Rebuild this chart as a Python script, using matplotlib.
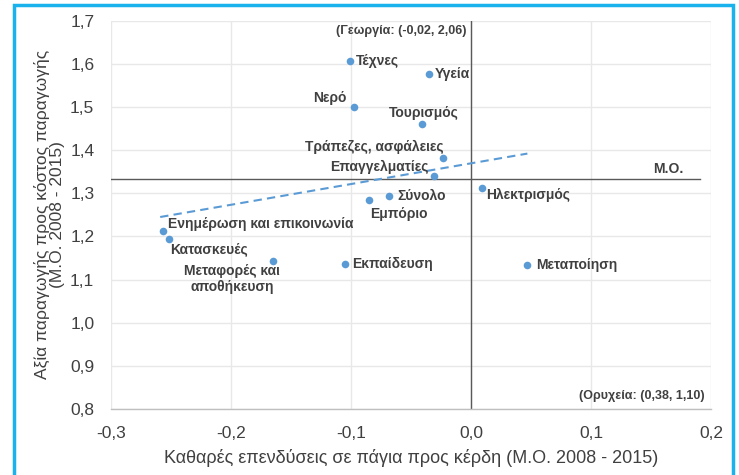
import matplotlib
matplotlib.use("Agg")
import matplotlib.pyplot as plt
from matplotlib.ticker import FuncFormatter
from matplotlib.patches import Rectangle

plt.rcParams['font.family'] = ['Liberation Sans', 'DejaVu Sans']

# ---- data ----
sectors = ["Τέχνες", "Υγεία", "Νερό", "Τουρισμός", "Τράπεζες, ασφάλειες",
           "Επαγγελματίες", "Σύνολο", "Εμπόριο", "Ηλεκτρισμός",
           "Ενημέρωση και επικοινωνία", "Κατασκευές", "Μεταφορές και\nαποθήκευση",
           "Εκπαίδευση", "Μεταποίηση"]
investment = [-0.101, -0.035, -0.0975, -0.041, -0.023, -0.031, -0.068, -0.085,
              0.0094, -0.257, -0.252, -0.165, -0.105, 0.047]
value_ratio = [1.607, 1.577, 1.500, 1.461, 1.382, 1.340, 1.293, 1.284,
               1.312, 1.213, 1.195, 1.143, 1.136, 1.134]
trend_x = [-0.259, 0.047]
trend_y = [1.245, 1.392]
mean_value = 1.334
mean_x = [-0.3, 0.191]
x_ticks = [-0.3, -0.2, -0.1, 0.0, 0.1, 0.2]
y_ticks = [0.8, 0.9, 1.0, 1.1, 1.2, 1.3, 1.4, 1.5, 1.6, 1.7]
note_georgia = "(Γεωργία: (-0,02, 2,06)"
note_mines = "(Ορυχεία: (0,38, 1,10)"
mean_label = "Μ.Ο."
xlabel = "Καθαρές επενδύσεις σε πάγια προς κέρδη (Μ.Ο. 2008 - 2015)"
ylabel = "Αξία παραγωγής προς κόστος παραγωγής\n(Μ.Ο. 2008 - 2015)"

# label placement (offset pixels, alignment)
label_style = [
    ((6, 0), 'left'), ((5.5, 0), 'left'), ((-7, 9), 'right'), ((2, 11), 'center'),
    ((0, 11), 'right'), ((-5, 9), 'right'), ((8, 0), 'left'), ((30, -14), 'center'),
    ((4, -7), 'left'), ((5, 7), 'left'), ((2, -10), 'left'), ((-41, -18), 'center'),
    ((7, 0), 'left'), ((9, 0), 'left'),
]

W, H = 739, 475
fig = plt.figure(figsize=(W / 100, H / 100), dpi=100)
ax = fig.add_axes([111 / W, 1 - 409 / H, 600 / W, (409 - 20.7) / H])

blue = '#5B9BD5'
text_col = '#404040'

ax.set_xlim(x_ticks[0], x_ticks[-1])
ax.set_ylim(y_ticks[0], y_ticks[-1])
ax.set_xticks(x_ticks)
ax.set_yticks(y_ticks)
fmt = FuncFormatter(lambda v, p: f"{v:.1f}".replace('.', ',').replace('-0,0', '0,0'))
ax.xaxis.set_major_formatter(fmt)
ax.yaxis.set_major_formatter(fmt)
ax.grid(True, color='#E8E8E8', linewidth=1.0)
ax.set_axisbelow(True)
for s in ['top', 'right', 'left']:
    ax.spines[s].set_visible(False)
ax.spines['bottom'].set_color('#BFBFBF')
ax.spines['bottom'].set_linewidth(1.0)
ax.tick_params(length=0, labelsize=12.5, labelcolor=text_col)
ax.tick_params(axis='y', pad=12)
ax.tick_params(axis='x', pad=12)

# reference lines
ax.axvline(0, color='#595959', linewidth=1.0, zorder=2)
ax.plot(mean_x, [mean_value, mean_value], color='#595959', linewidth=1.0, zorder=2)

# trend
ax.plot(trend_x, trend_y, color=blue, linestyle=(0, (4, 2.5)), linewidth=1.5, zorder=3)

# points
ax.scatter(investment, value_ratio, s=30, color=blue, zorder=4, linewidths=0)

for name, x, y, (off, ha) in zip(sectors, investment, value_ratio, label_style):
    ax.annotate(name, (x, y), xytext=off, textcoords='offset pixels', ha=ha,
                va='center', fontsize=10, fontweight='bold', color=text_col,
                linespacing=1.25, zorder=5)

ax.annotate(mean_label, (mean_x[1], mean_value), xytext=(-17, 10), textcoords='offset pixels',
            ha='right', va='center', fontsize=10, fontweight='bold', color=text_col)
ax.text(-0.0035, 1.676, note_georgia, ha='right', va='center', fontsize=9,
        fontweight='bold', color=text_col)
ax.text(0.195, 0.829, note_mines, ha='right', va='center', fontsize=9,
        fontweight='bold', color=text_col)

ax.set_xlabel(xlabel, fontsize=13, color=text_col, labelpad=6)
ax.set_ylabel(ylabel, fontsize=12.5, color=text_col, labelpad=4, linespacing=1.0)

# outer blue frame
fig.patches.append(Rectangle((14 / W, -0.05), (733 - 14) / W, 1.05 - 5 / H,
                             transform=fig.transFigure, fill=False,
                             edgecolor='#1AB2EC', linewidth=2.5))

fig.savefig('out.png', dpi=100)
